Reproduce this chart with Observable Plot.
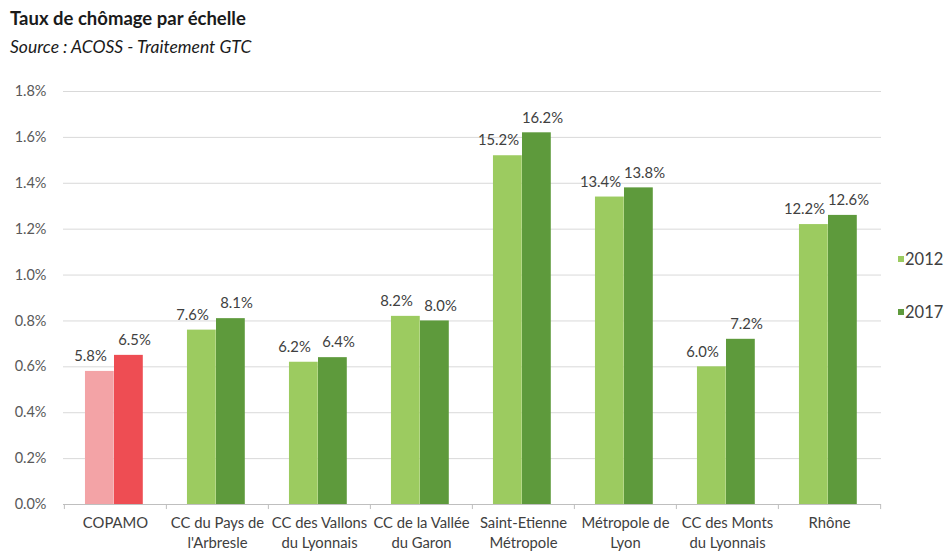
<!DOCTYPE html>
<html>
<head>
<meta charset="utf-8">
<script src="https://cdn.jsdelivr.net/npm/d3@7"></script>
<script src="https://cdn.jsdelivr.net/npm/@observablehq/plot@0.6"></script>
<style>
  html, body { margin: 0; padding: 0; background: #fff; }
  body { width: 947px; height: 552px; position: relative; overflow: hidden; font-family: Lato, "Open Sans", sans-serif; }
  #head { height: 70px; position: relative; }
  #title { position: absolute; left: 10px; top: 7px; font-size: 18.5px; font-weight: bold; color: #1a1a1a; }
  #subtitle { position: absolute; left: 10px; top: 36px; font-size: 17.5px; font-style: italic; color: #1a1a1a; }
  #legend { position: absolute; left: 898px; top: 0; font-size: 16.5px; color: #404040; }
  .item { position: absolute; left: 0; white-space: nowrap; display: flex; align-items: center; }
  .sw { width: 6px; height: 6px; margin-right: 1px; display: inline-block; }
  #chart svg { display: block; }
</style>
</head>
<body>
<div id="head">
  <div id="title">Taux de chômage par échelle</div>
  <div id="subtitle">Source : ACOSS - Traitement GTC</div>
</div>
<div id="chart"></div>
<div id="legend"></div>
<script>
const categories = ["COPAMO", "CC du Pays de\nl'Arbresle", "CC des Vallons\ndu Lyonnais", "CC de la Vallée\ndu Garon", "Saint-Etienne\nMétropole", "Métropole de\nLyon", "CC des Monts\ndu Lyonnais", "Rhône"];
const rate2012 = [5.8, 7.6, 6.2, 8.2, 15.2, 13.4, 6.0, 12.2];
const rate2017 = [6.5, 8.1, 6.4, 8.0, 16.2, 13.8, 7.2, 12.6];
const years = ["2012", "2017"];
const yTicks = [0, 2, 4, 6, 8, 10, 12, 14, 16, 18];
const yTickLabels = ["0.0%", "0.2%", "0.4%", "0.6%", "0.8%", "1.0%", "1.2%", "1.4%", "1.6%", "1.8%"];

const green = {"2012": "#9ccb60", "2017": "#5e9a3c"};
const red = {"2012": "#f3a3a6", "2017": "#ee4d53"};

const rows = categories.map((c, i) => ({cat: c, v2012: rate2012[i], v2017: rate2017[i]}));
const fillFor = (yr) => (d) => d.cat === "COPAMO" ? red[yr] : green[yr];
const fmt = (v) => v.toFixed(1) + "%";

const W = 947, H = 482, mL = 63, mR = 66, mT = 21, mB = 48;
const bw = (W - mL - mR) / categories.length;

const chart = Plot.plot({
  width: W, height: H,
  marginLeft: mL, marginRight: mR, marginTop: mT, marginBottom: mB,
  style: {fontFamily: "Lato, 'Open Sans', sans-serif", fontSize: "14px", color: "#404040", background: "#fff"},
  x: {domain: categories, padding: 0},
  y: {domain: [0, 18]},
  marks: [
    Plot.gridY(yTicks, {stroke: "#d9d9d9", strokeOpacity: 1}),
    Plot.axisY(yTicks, {tickSize: 0, tickPadding: 17, label: null, tickFormat: d => yTickLabels[yTicks.indexOf(d)], fill: "#595959", fontSize: 14.5}),
    Plot.barY(rows, {x: "cat", y: "v2012", fill: fillFor("2012"), insetLeft: bw * 0.205, insetRight: bw * 0.511}),
    Plot.barY(rows, {x: "cat", y: "v2017", fill: fillFor("2017"), insetLeft: bw * 0.489, insetRight: bw * 0.227}),
    Plot.ruleY([0], {stroke: "#bfbfbf"}),
    Plot.ruleX(categories, {x: d => d, dx: -bw / 2, y1: 0, y2: -0.22, stroke: "#bfbfbf"}),
    Plot.ruleX(categories.slice(-1), {x: d => d, dx: bw / 2, y1: 0, y2: -0.22, stroke: "#bfbfbf"}),
    Plot.axisX({tickSize: 0, tickPadding: 9, label: null, fill: "#404040", lineHeight: 1.35, fontSize: 14.8}),
    Plot.text(rows, {x: "cat", y: "v2012", text: d => fmt(d.v2012), dx: -25, dy: -15, fill: "#404040", fontSize: 14.8}),
    Plot.text(rows, {x: "cat", y: "v2017", text: d => fmt(d.v2017), dx: 19, dy: -15, fill: "#404040", fontSize: 14.8})
  ]
});
document.getElementById("chart").append(chart);

const legend = document.getElementById("legend");
const legendTops = {"2012": 249, "2017": 302};
years.forEach(yr => {
  const it = document.createElement("div");
  it.className = "item";
  it.style.top = legendTops[yr] + "px";
  const sw = document.createElement("span");
  sw.className = "sw";
  sw.style.background = green[yr];
  const tx = document.createElement("span");
  tx.textContent = yr;
  it.append(sw, tx);
  legend.append(it);
});
</script>
</body>
</html>
